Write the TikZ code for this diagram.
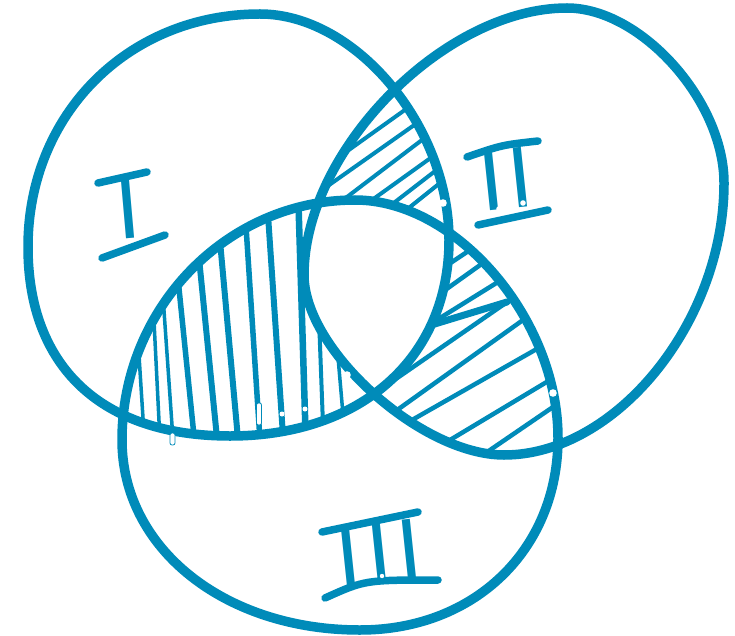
\documentclass[tikz,border=0pt]{standalone}
\usepackage{fontspec}
\newfontfamily\lsans{Liberation Sans}
\newfontfamily\lsansII[LetterSpace=6.7]{Liberation Sans}
\newfontfamily\lsansIII[LetterSpace=7.4]{Liberation Sans}
\usetikzlibrary{calc}
\definecolor{vblue}{RGB}{0,139,185}
\begin{document}
\begin{tikzpicture}[x=1pt,y=-1pt, line cap=round, line join=round,
  outline/.style={draw=vblue, line width=9.5pt},
  hatch/.style={draw=vblue, line width=4.5pt},
  bar/.style={draw=vblue, line width=7.5pt},
  pill/.style={draw=vblue, line width=0.8pt, fill=white, rounded corners=2pt},
  numeral/.style={text=vblue, inner sep=0pt}]
\useasboundingbox (0,0) rectangle (735,636);
\def\pI{(260,14) .. controls (355.4,14) and (449,125.9) .. (449,240) .. controls (449,357.6) and (361.4,436) .. (230,436) .. controls (101.7,436) and (28,367) .. (28,247) .. controls (28,114.4) and (128,14) .. cycle}
\def\pII{(567,8) .. controls (640.8,8) and (724,100.75) .. (724,183) .. controls (724,321.7) and (616.2,455) .. (504,455) .. controls (421,455) and (304,349.7) .. (304,275) .. controls (304,150.6) and (444.4,8) .. cycle}
\def\pIII{(355,200) .. controls (456.5,200) and (558,319) .. (558,438) .. controls (558,549.4) and (474.8,630) .. (360,630) .. controls (224.3,630) and (122,548.3) .. (122,440) .. controls (122,308) and (226.8,200) .. cycle}
% hatch I and III
\begin{scope}
  \clip \pI; \clip \pIII;
  \foreach \xa/\ya/\xb/\yb/\w in {140/371/143/418/3.5, 155/341/159/421/3.5, 165/325/172/425/3.5, 182/318/193/426/5.5, 205/318/216/428/6, 227/318/237/428/6, 252/318/259/425/5.5, 275/318/282/421/6, 302/318/305/415/6.5, 320/345/323/425/4, 338/357/342/403/3.5}
    \draw[hatch, line width=\w pt] ($(\xa,\ya)!-3!(\xb,\yb)$) -- ($(\xa,\ya)!4!(\xb,\yb)$);
\end{scope}
% hatch I and II
\begin{scope}
  \clip \pI; \clip \pII;
  \foreach \xa/\ya/\xb/\yb in {332/162/402/112, 322/190/410/128, 343/200/418/143, 372/200/425/162, 395/202/430/175, 410/207/435/187}
    \draw[hatch, line width=4pt] ($(\xa,\ya)!-3!(\xb,\yb)$) -- ($(\xa,\ya)!4!(\xb,\yb)$);
\end{scope}
% hatch II and III
\begin{scope}
  \clip \pII; \clip \pIII;
  \foreach \xa/\ya/\xb/\yb in {452/262/470/250, 448/288/483/263, 440/318/498/282, 387/385/484/318, 400/408/523/320, 412/420/535/350, 450/440/545/383, 493/448/553/407}
    \draw[hatch, line width=4.5pt] ($(\xa,\ya)!-3!(\xb,\yb)$) -- ($(\xa,\ya)!4!(\xb,\yb)$);
  \draw[hatch, line width=7pt] ($(438,323)!-1!(507,302)$) -- (507,302);
\end{scope}
% common centre stays blank
\begin{scope}
  \clip \pI; \clip \pII;
  \fill[white] \pIII;
\end{scope}
% outlines
\draw[outline] \pI;
\draw[outline] \pII;
\draw[outline] \pIII;
% small white specks and pills
\fill[white] (443,203) circle (3.8) (347,375) circle (3.8) (553,393) circle (3.8)
  (282,414) circle (2.5) (305,409) circle (2.5);
\draw[pill] (256.5,403) rectangle (261.5,425);
\draw[pill] (170,433) rectangle (175,445);
% labels: stems as text, bars drawn
\node[numeral, rotate=5, font=\lsans\fontsize{87}{87}\selectfont] (lI) at (127.5,209) {I};
\node[numeral, rotate=6, font=\lsansII\fontsize{87}{87}\selectfont] (lII) at (506,179) {II};
\node[numeral, rotate=6, font=\lsansIII\fontsize{87}{87}\selectfont] (lIII) at (379,553) {III};
\draw[bar] (98,183) -- (147,172);
\draw[bar] (102,258) -- (165,235);
\draw[bar] (467,157) .. controls (502,145) .. (538,141);
\draw[bar] (478,225) -- (548,210);
\draw[bar] (322,532) -- (418,512);
\draw[bar] (325,598) .. controls (365,580) .. (438,580);
\fill[white] (129,241) circle (1.8) (499,209) circle (2.8) (523,203) circle (2.8) (382,576) circle (2.2);
\end{tikzpicture}
\end{document}
